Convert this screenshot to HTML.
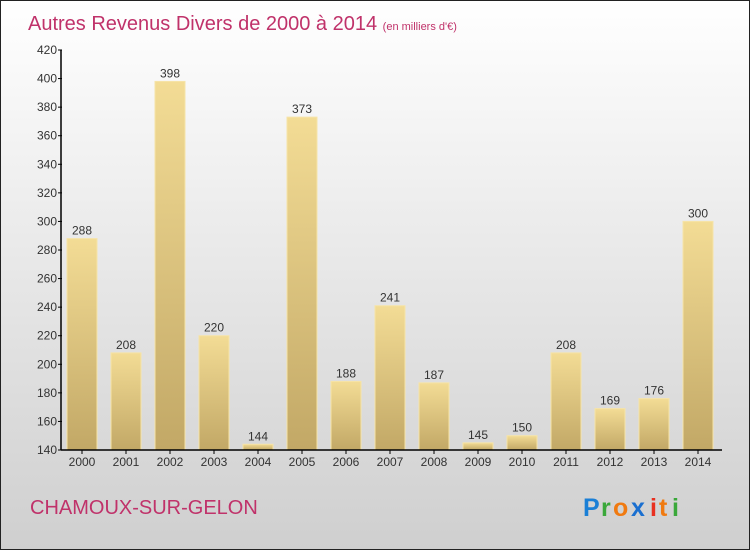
<!DOCTYPE html>
<html><head><meta charset="utf-8"><style>
body{margin:0;}
svg{display:block;font-family:"Liberation Sans",sans-serif;}
</style></head><body>
<svg width="750" height="550" xmlns="http://www.w3.org/2000/svg">
<defs>
<linearGradient id="bg" x1="0" y1="0" x2="0" y2="1"><stop offset="0" stop-color="#ffffff"/><stop offset="1" stop-color="#cfcfcf"/></linearGradient>
<linearGradient id="bar" x1="0" y1="0" x2="0" y2="1"><stop offset="0" stop-color="#f3dc95"/><stop offset="1" stop-color="#c2a866"/></linearGradient>
</defs>
<rect x="0.5" y="0.5" width="749" height="549" fill="url(#bg)" stroke="#222"/>
<text x="28" y="30" font-size="20" fill="#c0326a">Autres Revenus Divers de 2000 à 2014 <tspan font-size="11">(en milliers d'€)</tspan></text>
<g id="bars"></g>
<g id="axes"></g>
<text x="30" y="514" font-size="20" fill="#c0326a">CHAMOUX-SUR-GELON</text>
<g font-size="25" font-weight="bold">
<text x="583" y="516" fill="#1a7fd6">P</text><text x="601" y="516" fill="#3aa83a">r</text><text x="613" y="516" fill="#f07a10">o</text><text x="631" y="516" fill="#1a6fd0">x</text><text x="650" y="516" fill="#e83020">i</text><text x="659" y="516" fill="#f07a10">t</text><text x="672" y="516" fill="#3aa83a">i</text>
</g>
<script>
const years=['2000','2001','2002','2003','2004','2005','2006','2007','2008','2009','2010','2011','2012','2013','2014'];
const values=[288,208,398,220,144,373,188,241,187,145,150,208,169,176,300];
const yTicks=[140,160,180,200,220,240,260,280,300,320,340,360,380,400,420];
const NS='http://www.w3.org/2000/svg';
const y=v=>450-(v-140)*400/280;
const x=i=>82+i*44;
const bars=document.getElementById('bars'),axes=document.getElementById('axes');
function mk(tag,attrs,parent,txt){const e=document.createElementNS(NS,tag);for(const k in attrs)e.setAttribute(k,attrs[k]);if(txt!==undefined)e.textContent=txt;parent.appendChild(e);return e;}
values.forEach((v,i)=>{
  const r=mk('rect',{x:x(i)-15,y:y(v),width:30,height:450-y(v),fill:'url(#bar)',stroke:'#f6e4a8','stroke-width':1},bars);
  
  
  const t=mk('text',{x:x(i),y:y(v)-4,'font-size':12,fill:'#333','text-anchor':'middle'},bars,String(v));
  
  
  const xl=mk('text',{x:x(i),y:466,'font-size':12,fill:'#333','text-anchor':'middle'},axes,years[i]);
  
  
  mk('line',{x1:x(i),x2:x(i),y1:450,y2:454,stroke:'#000'},axes);
});
const ya=mk('line',{x1:61,x2:61,y1:50,y2:450,stroke:'#000','stroke-width':1.5},axes);


const xa=mk('line',{x1:61,x2:722,y1:450,y2:450,stroke:'#000','stroke-width':1.5},axes);


yTicks.forEach(v=>{
  mk('line',{x1:58,x2:62,y1:y(v),y2:y(v),stroke:'#000'},axes);
  const t=mk('text',{x:57,y:y(v)+4,'font-size':12,fill:'#333','text-anchor':'end'},axes,String(v));
  
  
});
</script>
</svg>
</body></html>
